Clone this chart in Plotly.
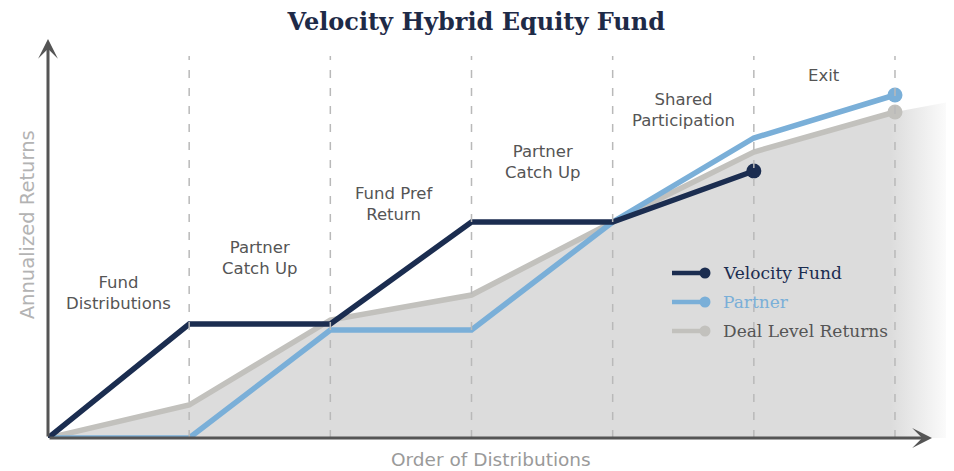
import plotly.graph_objects as go

# ---- data ----
stages = [0, 1, 2, 3, 4, 5, 6]
velocity_x = [0, 1, 2, 3, 4, 5]
velocity_y = [0, 11.4, 11.4, 21.6, 21.6, 26.7]
partner_x = [0, 1, 2, 3, 4, 5, 6]
partner_y = [0, 0, 10.8, 10.8, 21.6, 30.0, 34.3]
deal_x = [0, 1, 2, 3, 4, 5, 6]
deal_y = [0, 3.3, 11.8, 14.3, 21.6, 28.6, 32.6]
fill_x = deal_x + [6.418]
fill_y = deal_y + [33.7]
phase_labels = ["Fund<br>Distributions", "Partner<br>Catch Up", "Fund Pref<br>Return",
                "Partner<br>Catch Up", "Shared<br>Participation", "Exit"]
phase_label_x = [0.5, 1.5, 2.45, 3.5, 4.5, 5.5]
phase_label_y = [14.5, 18.0, 23.4, 27.6, 32.8, 36.3]
legend_names = ["Velocity Fund", "Partner", "Deal Level Returns"]

NAVY = "#1b2d50"
BLUE = "#7aafd8"
GRAY = "#c2c1bd"
legend_line_colors = [NAVY, BLUE, GRAY]
legend_text_colors = [NAVY, BLUE, "#555555"]
XMAX = 6.418
YMAX = 39.8

fig = go.Figure()

# shaded area under deal-level returns
fig.add_trace(go.Scatter(
    x=fill_x, y=fill_y, mode="lines", line=dict(width=0),
    fill="tozeroy", fillcolor="#dcdcdc",
    fillgradient=dict(type="horizontal",
                      colorscale=[[0, "#dcdcdc"], [0.93, "#dcdcdc"], [1, "rgba(255,255,255,1)"]]),
    showlegend=False, hoverinfo="skip"))

# dashed phase separators
for s in stages[1:]:
    fig.add_shape(type="line", x0=s, x1=s, y0=0, y1=38.2, xref="x", yref="y",
                  line=dict(color="#b9b9b9", width=1.5, dash="8px,10px"), layer="above")

def add_series(x, y, color):
    fig.add_trace(go.Scatter(x=x, y=y, mode="lines", line=dict(color=color, width=5.5),
                             showlegend=False, hoverinfo="skip"))
    fig.add_trace(go.Scatter(x=[x[-1]], y=[y[-1]], mode="markers",
                             marker=dict(color=color, size=15), showlegend=False, hoverinfo="skip"))

add_series(deal_x, deal_y, GRAY)
add_series(partner_x, partner_y, BLUE)
add_series(velocity_x, velocity_y, NAVY)

# legend (drawn manually in paper coordinates)
leg_x0, leg_x1, leg_tx = (672 - 48) / 906, (705 - 48) / 906, (721 - 48) / 906
for i, (name, lc, tc) in enumerate(zip(legend_names, legend_line_colors, legend_text_colors)):
    py = (438 - (273 + 29 * i)) / 398
    fig.add_shape(type="line", xref="paper", yref="paper", x0=leg_x0, x1=leg_x1, y0=py, y1=py,
                  line=dict(color=lc, width=4.5), layer="above")
    r = 5.5 / 906
    ry = 5.5 / 398
    fig.add_shape(type="circle", xref="paper", yref="paper", x0=leg_x1 - r, x1=leg_x1 + r,
                  y0=py - ry, y1=py + ry, fillcolor=lc, line=dict(width=0), layer="above")
    fig.add_annotation(xref="paper", yref="paper", x=leg_tx, y=py, xanchor="left", yanchor="middle",
                       text=name, showarrow=False,
                       font=dict(family="DejaVu Serif", size=17, color=tc))

# axes arrows
fig.add_annotation(x=6.262, y=0, ax=0, ay=0, xref="x", yref="y", axref="x", ayref="y",
                   showarrow=True, arrowhead=3, arrowwidth=3, arrowsize=1.1, arrowcolor="#555555", text="")
fig.add_annotation(x=0, y=39.9, ax=0, ay=0, xref="x", yref="y", axref="x", ayref="y",
                   showarrow=True, arrowhead=3, arrowwidth=3, arrowsize=1.1, arrowcolor="#555555", text="")

# phase labels
for t, px, py in zip(phase_labels, phase_label_x, phase_label_y):
    fig.add_annotation(x=px, y=py, text=t, showarrow=False, xref="x", yref="y",
                       xanchor="center", yanchor="middle",
                       font=dict(family="DejaVu Sans", size=16.5, color="#555555"))

# axis titles
fig.add_annotation(x=-0.023, y=0.535, text="Annualized Returns", textangle=-90, showarrow=False,
                   xref="paper", yref="paper", xanchor="center", yanchor="middle",
                   font=dict(family="DejaVu Sans", size=19.5, color="#b3b3b3"))
fig.add_annotation(x=0.489, y=-0.053, text="Order of Distributions", showarrow=False,
                   xref="paper", yref="paper", xanchor="center", yanchor="middle",
                   font=dict(family="DejaVu Sans", size=18.5, color="#9a9a9a"))

fig.update_layout(
    width=946, height=463,
    margin=dict(l=40, r=0, t=32, b=33),
    paper_bgcolor="white", plot_bgcolor="white",
    title=dict(text="<b>Velocity Hybrid Equity Fund</b>", x=0.495, xanchor="center", y=0.97,
               yanchor="middle",
               font=dict(family="DejaVu Serif", size=24, color="#1e2a47")),
    xaxis=dict(range=[0, XMAX], visible=False, fixedrange=True),
    yaxis=dict(range=[0, YMAX], visible=False, fixedrange=True),
    showlegend=False,
)

fig.write_html("out.html")
